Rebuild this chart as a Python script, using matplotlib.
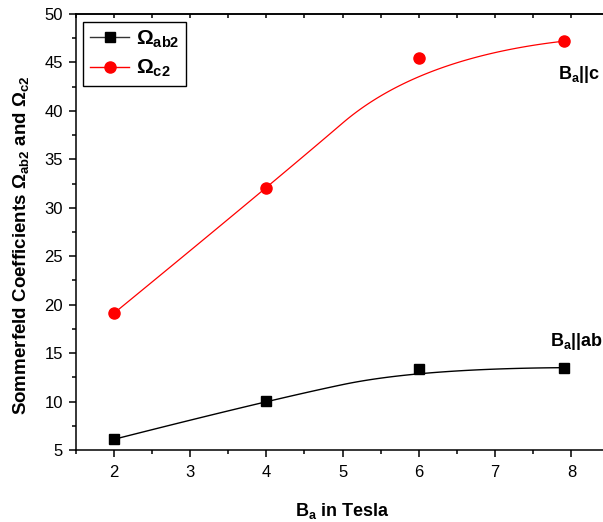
import numpy as np
import matplotlib
matplotlib.use("Agg")
import matplotlib.pyplot as plt
from matplotlib.lines import Line2D
from matplotlib.ticker import MultipleLocator

plt.rcParams['font.family'] = ['Liberation Sans', 'DejaVu Sans']
plt.rcParams['mathtext.fontset'] = 'custom'
plt.rcParams['mathtext.rm'] = 'Liberation Sans'
plt.rcParams['mathtext.bf'] = 'Liberation Sans:bold'
plt.rcParams['mathtext.it'] = 'Liberation Sans:italic'

# data
field = [2, 4, 6, 7.9]
omega_ab2 = [6.1, 10.1, 13.4, 13.5]
omega_c2 = [19.1, 32.0, 45.5, 47.2]


def bspline2(xs, ys, n=60):
    # clamped quadratic B-spline using the points as control points
    P = np.column_stack([xs, ys]).astype(float)
    ends = [P[0]] + [(P[i] + P[i + 1]) / 2 for i in range(1, len(P) - 2)] + [P[-1]]
    out = []
    for k in range(len(P) - 2):
        a, c, b = ends[k], P[k + 1], ends[k + 1]
        s = np.linspace(0, 1, n)[:, None]
        out.append((1 - s) ** 2 * a + 2 * s * (1 - s) * c + s ** 2 * b)
    out = np.vstack(out)
    return out[:, 0], out[:, 1]


fig = plt.figure(figsize=(6.03, 5.22), dpi=100)
ax = fig.add_axes([0.1254, 0.1379, 0.8856, 0.8352])

bx, by = bspline2(field, omega_ab2)
ax.plot(bx, by, color='black', lw=1.0)
ax.plot(field, omega_ab2, 's', color='black', ms=7)

rx, ry = bspline2(field, omega_c2)
ax.plot(rx, ry, color='red', lw=0.9)
ax.plot(field, omega_c2, 'o', color='red', ms=8)

ax.set_xlim(1.5, 8.5)
ax.set_ylim(5, 50)
ax.xaxis.set_major_locator(MultipleLocator(1))
ax.xaxis.set_minor_locator(MultipleLocator(0.5))
ax.yaxis.set_major_locator(MultipleLocator(5))
ax.yaxis.set_minor_locator(MultipleLocator(2.5))

for sp in ax.spines.values():
    sp.set_linewidth(1.1)
ax.tick_params(which='major', direction='out', length=5, width=1.1, labelsize=12)
ax.tick_params(which='minor', direction='out', length=3, width=1.1)
ax.tick_params(axis='x', which='major', pad=6)
ax.tick_params(axis='y', which='major', pad=4)
ax.tick_params(which='both', top=False, right=False)
sec = ax.secondary_xaxis('top')
sec.xaxis.set_major_locator(MultipleLocator(1))
sec.xaxis.set_minor_locator(MultipleLocator(0.5))
sec.tick_params(which='both', direction='in', length=3, width=1.1, labeltop=False)
sec.spines['top'].set_linewidth(1.1)

ax.set_xlabel(r'$\mathbf{B_a}$ in Tesla', fontsize=13, fontweight='bold', labelpad=15)
ax.set_ylabel(r'Sommerfeld Coefficients $\mathbf{\Omega_{ab2}}$ and $\mathbf{\Omega_{c2}}$',
              fontsize=13.5, fontweight='bold')
ax.yaxis.set_label_coords(-0.083, 0.47)

ax.text(7.82, 43.3, r'$\mathbf{B_a||c}$', fontsize=13)
ax.text(7.72, 15.7, r'$\mathbf{B_a||ab}$', fontsize=13)

handles = [
    Line2D([], [], color='#333333', lw=1.0, marker='s', ms=7, markerfacecolor='black',
           markeredgecolor='black'),
    Line2D([], [], color='red', lw=1.0, marker='o', ms=8),
]
leg = ax.legend(handles, [r'$\mathbf{\Omega_{ab2}}$', r'$\mathbf{\Omega_{c2}}$'],
                loc='upper left', bbox_to_anchor=(0.014, 0.982), borderaxespad=0,
                fontsize=15, handlelength=1.9, handletextpad=0.3, borderpad=0.32,
                labelspacing=0.4, fancybox=False, framealpha=1, edgecolor='black')
leg.get_frame().set_linewidth(1.0)

fig.savefig('out.png', dpi=100)
